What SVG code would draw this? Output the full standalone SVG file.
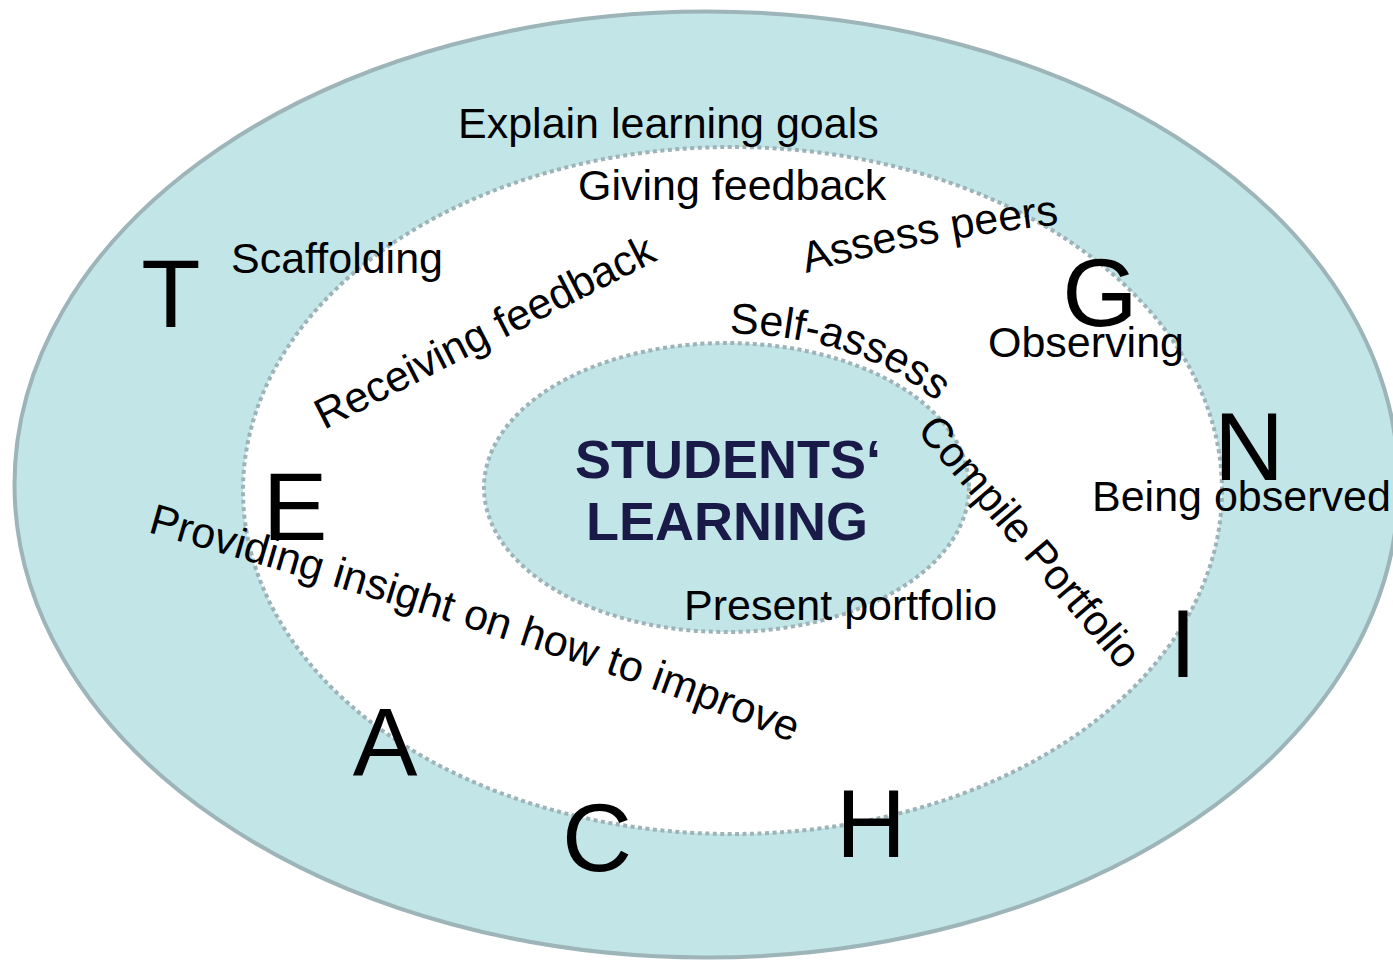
<svg xmlns="http://www.w3.org/2000/svg" width="1393" height="961" viewBox="0 0 1393 961">
  <style>
    .lbl { font-family: "Liberation Sans", Arial, sans-serif; font-size: 43px; fill: #000; }
    .big { font-family: "Liberation Sans", Arial, sans-serif; font-size: 97px; fill: #000; text-anchor: middle; }
    .core { font-family: "Liberation Sans", Arial, sans-serif; font-size: 54px; font-weight: bold; fill: #1a1a48; }
    .dots { stroke: #9db3b7; stroke-width: 4; stroke-dasharray: 4 3.5; }
  </style>
  <defs>
    <!-- baselines for the curved labels -->
    <path id="arc-self" d="M 726.5 333.5 A 252 154 0 0 1 978.5 487.5"/>
    <path id="arc-peers" d="M 806 273 Q 930 238 1062 224"/>
    <path id="arc-insight" d="M 147 532 Q 598 660 800 746"/>
  </defs>

  <rect width="1393" height="961" fill="#ffffff"/>

  <!-- outer ring: teaching -->
  <g id="outer-ring">
    <ellipse cx="706.5" cy="484.5" rx="692" ry="473" fill="#c2e5e7" stroke="#9db4b8" stroke-width="4"/>
  </g>

  <!-- middle ring: activities -->
  <g id="middle-ring">
    <ellipse class="dots" cx="732.5" cy="490.5" rx="489.5" ry="343.5" fill="#ffffff"/>
  </g>

  <!-- core -->
  <g id="core">
    <ellipse class="dots" cx="726.5" cy="487.5" rx="242.5" ry="144.5" fill="#c2e5e7"/>
    <text class="core" x="575" y="478">STUDENTS‘</text>
    <text class="core" x="586" y="540">LEARNING</text>
  </g>

  <!-- the word TEACHING spelled around the ring -->
  <g id="teaching-letters">
    <text class="big" x="171" y="327">T</text>
    <text class="big" x="295" y="540">E</text>
    <text class="big" x="385" y="775">A</text>
    <text class="big" x="597" y="871">C</text>
    <text class="big" x="871" y="857">H</text>
    <text class="big" x="1183" y="677">I</text>
    <text class="big" x="1249" y="480">N</text>
    <text class="big" x="1100" y="326">G</text>
  </g>

  <!-- activity labels -->
  <g id="labels">
    <text class="lbl" x="458" y="138">Explain learning goals</text>
    <text class="lbl" x="578" y="200">Giving feedback</text>
    <text class="lbl" x="231" y="273">Scaffolding</text>
    <text class="lbl" x="988" y="357">Observing</text>
    <text class="lbl" x="1092" y="511">Being observed</text>
    <text class="lbl" x="684" y="620">Present portfolio</text>
    <text class="lbl" transform="translate(324 430) rotate(-27)">Receiving feedback</text>
    <text class="lbl" transform="translate(916 431) rotate(49.5)" font-size="41" textLength="316" lengthAdjust="spacingAndGlyphs">Compile Portfolio</text>
    <text class="lbl"><textPath href="#arc-peers">Assess peers</textPath></text>
    <text class="lbl" font-size="42"><textPath href="#arc-self" startOffset="3">Self-assess</textPath></text>
    <text class="lbl" font-size="42.3"><textPath href="#arc-insight">Providing insight on how to improve</textPath></text>
  </g>
</svg>
